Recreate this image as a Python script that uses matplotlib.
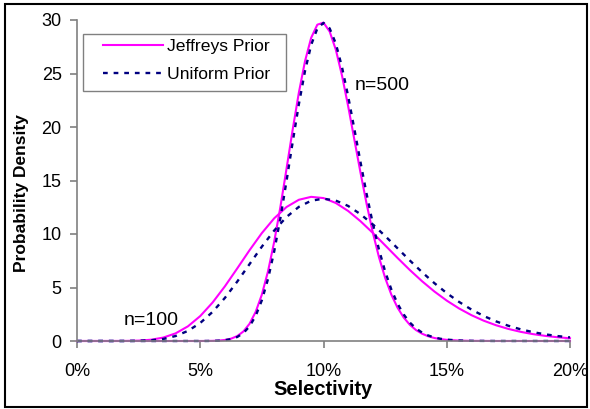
import matplotlib
matplotlib.use("Agg")
from matplotlib import pyplot as plt
from matplotlib.patches import Rectangle

plt.rcParams['font.family'] = ['Liberation Sans', 'DejaVu Sans']

# selectivity in percent, n=100 curves
sel_100 = [0, 0.5, 1, 1.5, 2, 2.5, 3, 3.5, 4, 4.5, 5, 5.5, 6, 6.5, 7, 7.5, 8, 8.5, 9, 9.5,
           10, 10.5, 11, 11.5, 12, 12.5, 13, 13.5, 14, 14.5, 15, 15.5, 16, 16.5, 17, 17.5,
           18, 18.5, 19, 19.5, 20]
jeffreys_100 = [0, 0, 0, 0.001, 0.006, 0.033, 0.117, 0.320, 0.714, 1.370, 2.331, 3.595,
                5.110, 6.782, 8.486, 10.088, 11.466, 12.523, 13.199, 13.472, 13.357, 12.897,
                12.152, 11.197, 10.104, 8.941, 7.771, 6.639, 5.583, 4.624, 3.775, 3.040,
                2.417, 1.897, 1.472, 1.129, 0.856, 0.642, 0.477, 0.351, 0.255]
uniform_100 = [0, 0, 0, 0, 0.003, 0.017, 0.067, 0.195, 0.465, 0.943, 1.686, 2.720, 4.028,
               5.549, 7.186, 8.819, 10.324, 11.592, 12.536, 13.111, 13.300, 13.123, 12.621,
               11.856, 10.897, 9.814, 8.674, 7.530, 6.430, 5.404, 4.474, 3.652, 2.941,
               2.337, 1.835, 1.424, 1.092, 0.828, 0.621, 0.461, 0.339]

# n=500 curves, finer steps around the peak
sel_500 = [0, 4, 5, 5.25, 5.5, 5.75, 6, 6.25, 6.5, 6.75, 7, 7.25, 7.5, 7.75, 8, 8.25, 8.5,
           8.75, 9, 9.25, 9.5, 9.75, 10, 10.25, 10.5, 10.75, 11, 11.25, 11.5, 11.75, 12,
           12.25, 12.5, 12.75, 13, 13.25, 13.5, 13.75, 14, 14.25, 14.5, 14.75, 15, 15.5,
           16, 17, 20]
jeffreys_500 = [0, 0, 0.001, 0.005, 0.014, 0.038, 0.096, 0.218, 0.458, 0.890, 1.611, 2.729,
                4.342, 6.520, 9.270, 12.511, 16.095, 19.760, 23.205, 26.152, 28.339, 29.563,
                29.754, 28.923, 27.225, 24.812, 21.947, 18.847, 15.746, 12.806, 10.140,
                7.835, 5.905, 4.347, 3.131, 2.205, 1.520, 1.026, 0.679, 0.441, 0.281, 0.175,
                0.108, 0.039, 0.013, 0.001, 0]
uniform_500 = [0, 0, 0.001, 0.003, 0.011, 0.030, 0.076, 0.176, 0.376, 0.743, 1.369, 2.357,
               3.810, 5.807, 8.376, 11.465, 14.949, 18.595, 22.117, 25.236, 27.676, 29.209,
               29.730, 29.217, 27.798, 25.599, 22.873, 19.835, 16.731, 13.735, 10.975,
               8.556, 6.505, 4.829, 3.508, 2.490, 1.729, 1.177, 0.785, 0.513, 0.329, 0.207,
               0.128, 0.046, 0.016, 0.002, 0]

x_ticks = [0, 5, 10, 15, 20]
x_tick_labels = ['0%', '5%', '10%', '15%', '20%']
y_ticks = [0, 5, 10, 15, 20, 25, 30]

jeff_color = '#FF00FF'
unif_color = '#000080'
dots = (0, (2, 2.5))

fig = plt.figure(figsize=(5.9, 4.09), dpi=100)
ax = fig.add_axes([77 / 590, 1 - 341 / 409, (570 - 77) / 590, (341 - 20) / 409])

ax.plot(sel_100, jeffreys_100, color=jeff_color, lw=1.5, clip_on=False, label='Jeffreys Prior')
ax.plot(sel_500, jeffreys_500, color=jeff_color, lw=1.5, clip_on=False)
ax.plot(sel_100, uniform_100, color=unif_color, lw=1.7, ls=dots, clip_on=False, label='Uniform Prior')
ax.plot(sel_500, uniform_500, color=unif_color, lw=1.7, ls=dots, clip_on=False)

ax.set_xlim(0, 20)
ax.set_ylim(0, 30)
ax.set_xticks(x_ticks)
ax.set_xticklabels(x_tick_labels)
ax.set_yticks(y_ticks)
for side in ['top', 'right']:
    ax.spines[side].set_visible(False)
for side in ['left', 'bottom']:
    ax.spines[side].set_color('#808080')
    ax.spines[side].set_linewidth(1.2)
ax.tick_params(axis='both', direction='out', color='#808080', length=5, width=1.2, labelsize=13)
ax.tick_params(axis='x', pad=11)
ax.tick_params(axis='y', pad=6)

ax.set_xlabel('Selectivity', fontsize=14.5, fontweight='bold', labelpad=0)
ax.set_ylabel('Probability Density', fontsize=12.5, fontweight='bold')
ax.yaxis.set_label_coords(-0.097, 0.46)

ax.text(12.4, 23.9, 'n=500', fontsize=14, ha='center', va='center')
ax.text(3.0, 1.9, 'n=100', fontsize=14, ha='center', va='center')

# legend content without its own frame, frame drawn separately (Excel-style padding)
leg = ax.legend(loc='upper left', bbox_to_anchor=(103 / 590, 1 - 39 / 409),
                bbox_transform=fig.transFigure, fontsize=12.6, frameon=False,
                handlelength=3.4, handletextpad=0.25, borderpad=0,
                labelspacing=0.72, borderaxespad=0)
fig.patches.append(Rectangle((83 / 590, 1 - 91 / 409), 203 / 590, 57 / 409,
                             transform=fig.transFigure, fill=False, edgecolor='#808080', lw=1.0))

fig.patches.append(Rectangle((5 / 590, 1 - 407 / 409), 582 / 590, 403 / 409,
                             transform=fig.transFigure, fill=False, edgecolor='black', lw=1.5))

fig.savefig('out.png', dpi=100)
